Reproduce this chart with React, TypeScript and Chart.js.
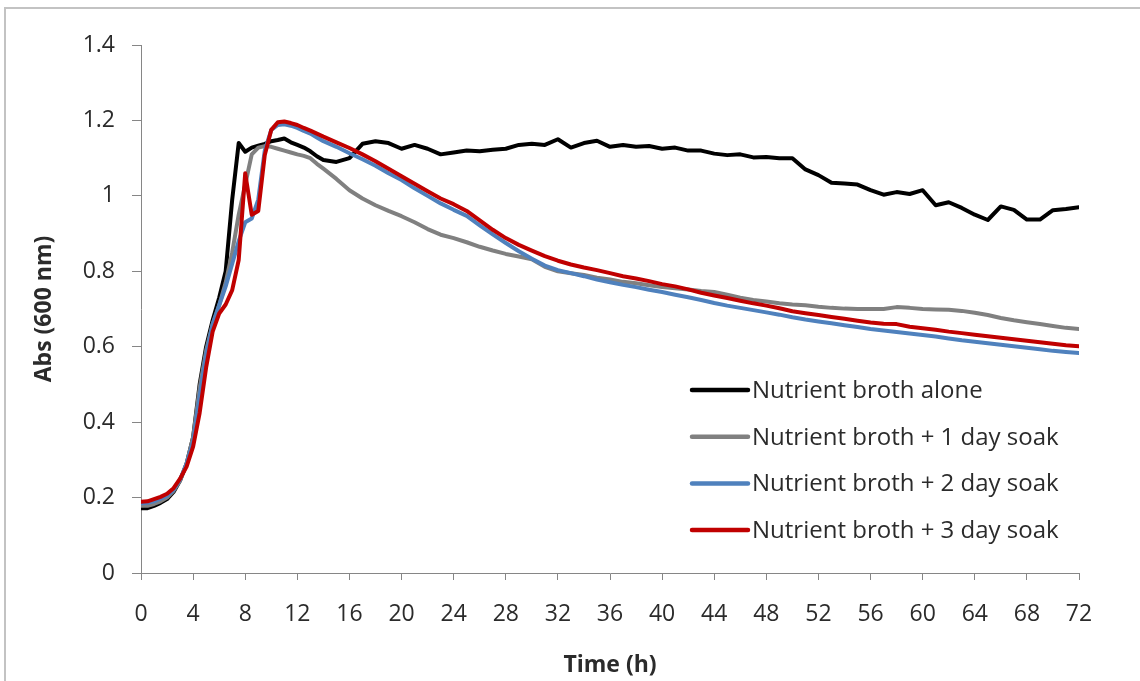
import React, { useEffect, useRef } from "react";
import { Chart, registerables } from "chart.js";

Chart.register(...registerables);

// Sampling times (h): half-hourly through the growth phase, hourly afterwards
const hours = [
  0, 0.5, 1, 1.5, 2, 2.5, 3, 3.5, 4, 4.5, 5, 5.5, 6, 6.5, 7, 7.5, 8, 8.5, 9, 9.5,
  10, 10.5, 11, 11.5, 12, 12.5, 13, 13.5, 14,
  15, 16, 17, 18, 19, 20, 21, 22, 23, 24, 25, 26, 27, 28, 29, 30, 31, 32, 33, 34,
  35, 36, 37, 38, 39, 40, 41, 42, 43, 44, 45, 46, 47, 48, 49, 50, 51, 52, 53, 54,
  55, 56, 57, 58, 59, 60, 61, 62, 63, 64, 65, 66, 67, 68, 69, 70, 71, 72,
];

// Absorbance at 600 nm for each culture
const brothAlone = [
  0.172, 0.172, 0.178, 0.186, 0.196, 0.215, 0.245, 0.29, 0.36, 0.5, 0.6, 0.67, 0.73, 0.8, 0.99, 1.14,
  1.117, 1.128, 1.133, 1.138, 1.145, 1.148, 1.152, 1.142, 1.135, 1.128, 1.118, 1.105, 1.095,
  1.09, 1.1, 1.138, 1.145, 1.14, 1.125, 1.135, 1.125, 1.11, 1.115, 1.12, 1.118, 1.122, 1.125, 1.135,
  1.138, 1.135, 1.15, 1.128, 1.14, 1.146, 1.13, 1.135, 1.13, 1.132, 1.125, 1.128, 1.12, 1.12, 1.112,
  1.108, 1.11, 1.102, 1.103, 1.1, 1.1, 1.07, 1.055, 1.035, 1.033, 1.03, 1.015, 1.003, 1.01, 1.005,
  1.015, 0.975, 0.983, 0.968, 0.95, 0.936, 0.972, 0.963, 0.937, 0.937, 0.962, 0.965, 0.97,
];

const soak1Day = [
  0.178, 0.178, 0.183, 0.19, 0.2, 0.218, 0.245, 0.29, 0.36, 0.49, 0.59, 0.66, 0.71, 0.77, 0.85, 0.95,
  1.03, 1.11, 1.128, 1.132, 1.13, 1.125, 1.12, 1.115, 1.11, 1.106, 1.1, 1.085, 1.072,
  1.045, 1.015, 0.993, 0.975, 0.96, 0.946, 0.93, 0.912, 0.897, 0.888, 0.877, 0.865, 0.855, 0.846,
  0.839, 0.832, 0.812, 0.8, 0.795, 0.79, 0.783, 0.778, 0.772, 0.768, 0.763, 0.758, 0.755, 0.752,
  0.748, 0.745, 0.738, 0.73, 0.724, 0.72, 0.715, 0.712, 0.71, 0.706, 0.703, 0.701, 0.7, 0.7, 0.7,
  0.705, 0.703, 0.7, 0.699, 0.698, 0.695, 0.69, 0.684, 0.676, 0.67, 0.665, 0.66, 0.655, 0.65, 0.647,
];

const soak2Day = [
  0.185, 0.186, 0.19, 0.197, 0.205, 0.22, 0.248, 0.29, 0.35, 0.47, 0.58, 0.66, 0.71, 0.76, 0.82, 0.88,
  0.93, 0.94, 0.99, 1.12, 1.175, 1.188, 1.19, 1.186, 1.18, 1.172, 1.165, 1.155, 1.145,
  1.13, 1.113, 1.097, 1.08, 1.06, 1.042, 1.02, 1.0, 0.98, 0.963, 0.947, 0.922, 0.898, 0.875, 0.853,
  0.833, 0.815, 0.803, 0.795, 0.787, 0.778, 0.771, 0.764, 0.758, 0.751, 0.745, 0.738, 0.731, 0.724,
  0.716, 0.709, 0.703, 0.697, 0.691, 0.685, 0.678, 0.672, 0.667, 0.662, 0.657, 0.652, 0.647, 0.643,
  0.639, 0.635, 0.631, 0.627, 0.622, 0.617, 0.613, 0.609, 0.605, 0.601, 0.597, 0.593, 0.589, 0.586, 0.583,
];

const soak3Day = [
  0.189, 0.19, 0.196, 0.202, 0.21, 0.225, 0.25, 0.282, 0.335, 0.424, 0.545, 0.64, 0.688, 0.712, 0.75,
  0.83, 1.06, 0.95, 0.96, 1.108, 1.175, 1.195, 1.197, 1.193, 1.188, 1.18, 1.173, 1.165, 1.157,
  1.142, 1.127, 1.11, 1.092, 1.072, 1.052, 1.032, 1.012, 0.993, 0.978, 0.96, 0.935, 0.91, 0.888, 0.87,
  0.855, 0.84, 0.828, 0.818, 0.81, 0.803, 0.795, 0.787, 0.781, 0.774, 0.766, 0.76, 0.752, 0.743,
  0.736, 0.729, 0.722, 0.715, 0.709, 0.702, 0.694, 0.689, 0.684, 0.679, 0.674, 0.669, 0.664, 0.661,
  0.66, 0.653, 0.649, 0.645, 0.64, 0.636, 0.632, 0.628, 0.624, 0.62, 0.616, 0.612, 0.608, 0.604, 0.601,
];

const seriesLabels = [
  "Nutrient broth alone",
  "Nutrient broth + 1 day soak",
  "Nutrient broth + 2 day soak",
  "Nutrient broth + 3 day soak",
];
const seriesColors = ["#000000", "#808080", "#4f81bd", "#c00000"];

const xTickValues = [0, 4, 8, 12, 16, 20, 24, 28, 32, 36, 40, 44, 48, 52, 56, 60, 64, 68, 72];
const xTickLabels = ["0", "4", "8", "12", "16", "20", "24", "28", "32", "36", "40", "44", "48", "52", "56", "60", "64", "68", "72"];
const yTickValues = [0, 0.2, 0.4, 0.6, 0.8, 1, 1.2, 1.4];
const yTickLabels = ["0", "0.2", "0.4", "0.6", "0.8", "1", "1.2", "1.4"];

const FONT = "'Open Sans', sans-serif";
const AXIS_COLOR = "#868686";
const TEXT_COLOR = "#2b2b2b";

// Legend drawn inside the plot area, lower right
const insideLegend = {
  id: "insideLegend",
  afterDraw(chart: any) {
    const { ctx, chartArea } = chart;
    const x0 = chartArea.left + 551;
    const y0 = chartArea.top + 345;
    const rowGap = 46.7;
    ctx.save();
    ctx.font = `24px ${FONT}`;
    ctx.textBaseline = "middle";
    ctx.textAlign = "left";
    seriesLabels.forEach((label, i) => {
      const y = y0 + i * rowGap;
      ctx.strokeStyle = seriesColors[i];
      ctx.lineWidth = 4.5;
      ctx.lineCap = "round";
      ctx.beginPath();
      ctx.moveTo(x0, y);
      ctx.lineTo(x0 + 56, y);
      ctx.stroke();
      ctx.fillStyle = TEXT_COLOR;
      ctx.fillText(label, x0 + 60, y + 1);
    });
    ctx.restore();
  },
};

export default function App() {
  const canvasRef = useRef<HTMLCanvasElement | null>(null);

  useEffect(() => {
    const canvas = canvasRef.current;
    if (!canvas) return;
    const values = [brothAlone, soak1Day, soak2Day, soak3Day];
    const chart = new Chart(canvas, {
      type: "line",
      data: {
        datasets: values.map((series, i) => ({
          label: seriesLabels[i],
          data: hours.map((h, j) => ({ x: h, y: series[j] })),
          borderColor: seriesColors[i],
          backgroundColor: seriesColors[i],
          borderWidth: 4,
          pointRadius: 0,
          tension: 0,
          borderJoinStyle: "round",
          borderCapStyle: "round",
          fill: false,
          order: 4 - i,
        })),
      },
      options: {
        animation: false,
        responsive: true,
        maintainAspectRatio: false,
        layout: { padding: { top: 45, right: 61, bottom: 0, left: 0 } },
        plugins: {
          legend: { display: false },
          tooltip: { enabled: false },
        },
        scales: {
          x: {
            type: "linear",
            min: 0,
            max: 72,
            afterBuildTicks: (scale: any) => {
              scale.ticks = xTickValues.map((v) => ({ value: v }));
            },
            afterFit: (scale: any) => {
              scale.height = 108;
            },
            grid: { drawOnChartArea: false, drawTicks: true, tickLength: 7, color: AXIS_COLOR },
            border: { display: true, color: AXIS_COLOR, width: 1 },
            ticks: {
              autoSkip: false,
              maxRotation: 0,
              padding: 21,
              color: TEXT_COLOR,
              font: { family: FONT, size: 23 },
              callback: (v: any) => {
                const k = xTickValues.indexOf(Number(v));
                return k >= 0 ? xTickLabels[k] : "";
              },
            },
            title: {
              display: true,
              text: "Time (h)",
              color: TEXT_COLOR,
              font: { family: FONT, size: 23, weight: "bold" },
              padding: { top: 0, bottom: 2 },
            },
          },
          y: {
            type: "linear",
            min: 0,
            max: 1.4,
            afterBuildTicks: (scale: any) => {
              scale.ticks = yTickValues.map((v) => ({ value: v }));
            },
            afterFit: (scale: any) => {
              scale.width = 141;
            },
            grid: { drawOnChartArea: false, drawTicks: true, tickLength: 9, color: AXIS_COLOR },
            border: { display: true, color: AXIS_COLOR, width: 1 },
            ticks: {
              padding: 17,
              color: TEXT_COLOR,
              font: { family: FONT, size: 23 },
              callback: (v: any) => {
                const k = yTickValues.findIndex((t) => Math.abs(t - Number(v)) < 1e-6);
                return k >= 0 ? yTickLabels[k] : "";
              },
            },
            title: {
              display: true,
              text: "Abs (600 nm)",
              color: TEXT_COLOR,
              font: { family: FONT, size: 23, weight: "bold" },
              padding: { top: 31, bottom: 0 },
            },
          },
        },
      },
      plugins: [insideLegend],
    });

    if ((document as any).fonts && (document as any).fonts.load) {
      Promise.all([
        (document as any).fonts.load(`23px ${FONT}`),
        (document as any).fonts.load(`bold 23px ${FONT}`),
      ]).then(() => chart.update()).catch(() => {});
    }

    return () => chart.destroy();
  }, []);

  return (
    <div
      style={{
        position: "fixed",
        left: 0,
        top: 0,
        width: 1140,
        height: 681,
        background: "#ffffff",
        overflow: "hidden",
      }}
    >
      <div
        style={{
          position: "absolute",
          left: 4,
          top: 7,
          width: 1150,
          height: 690,
          borderTop: "2px solid #c3c3c3",
          borderLeft: "2px solid #c3c3c3",
          boxSizing: "border-box",
        }}
      />
      <canvas ref={canvasRef} style={{ position: "absolute", left: 0, top: 0, width: 1140, height: 681 }} />
    </div>
  );
}
